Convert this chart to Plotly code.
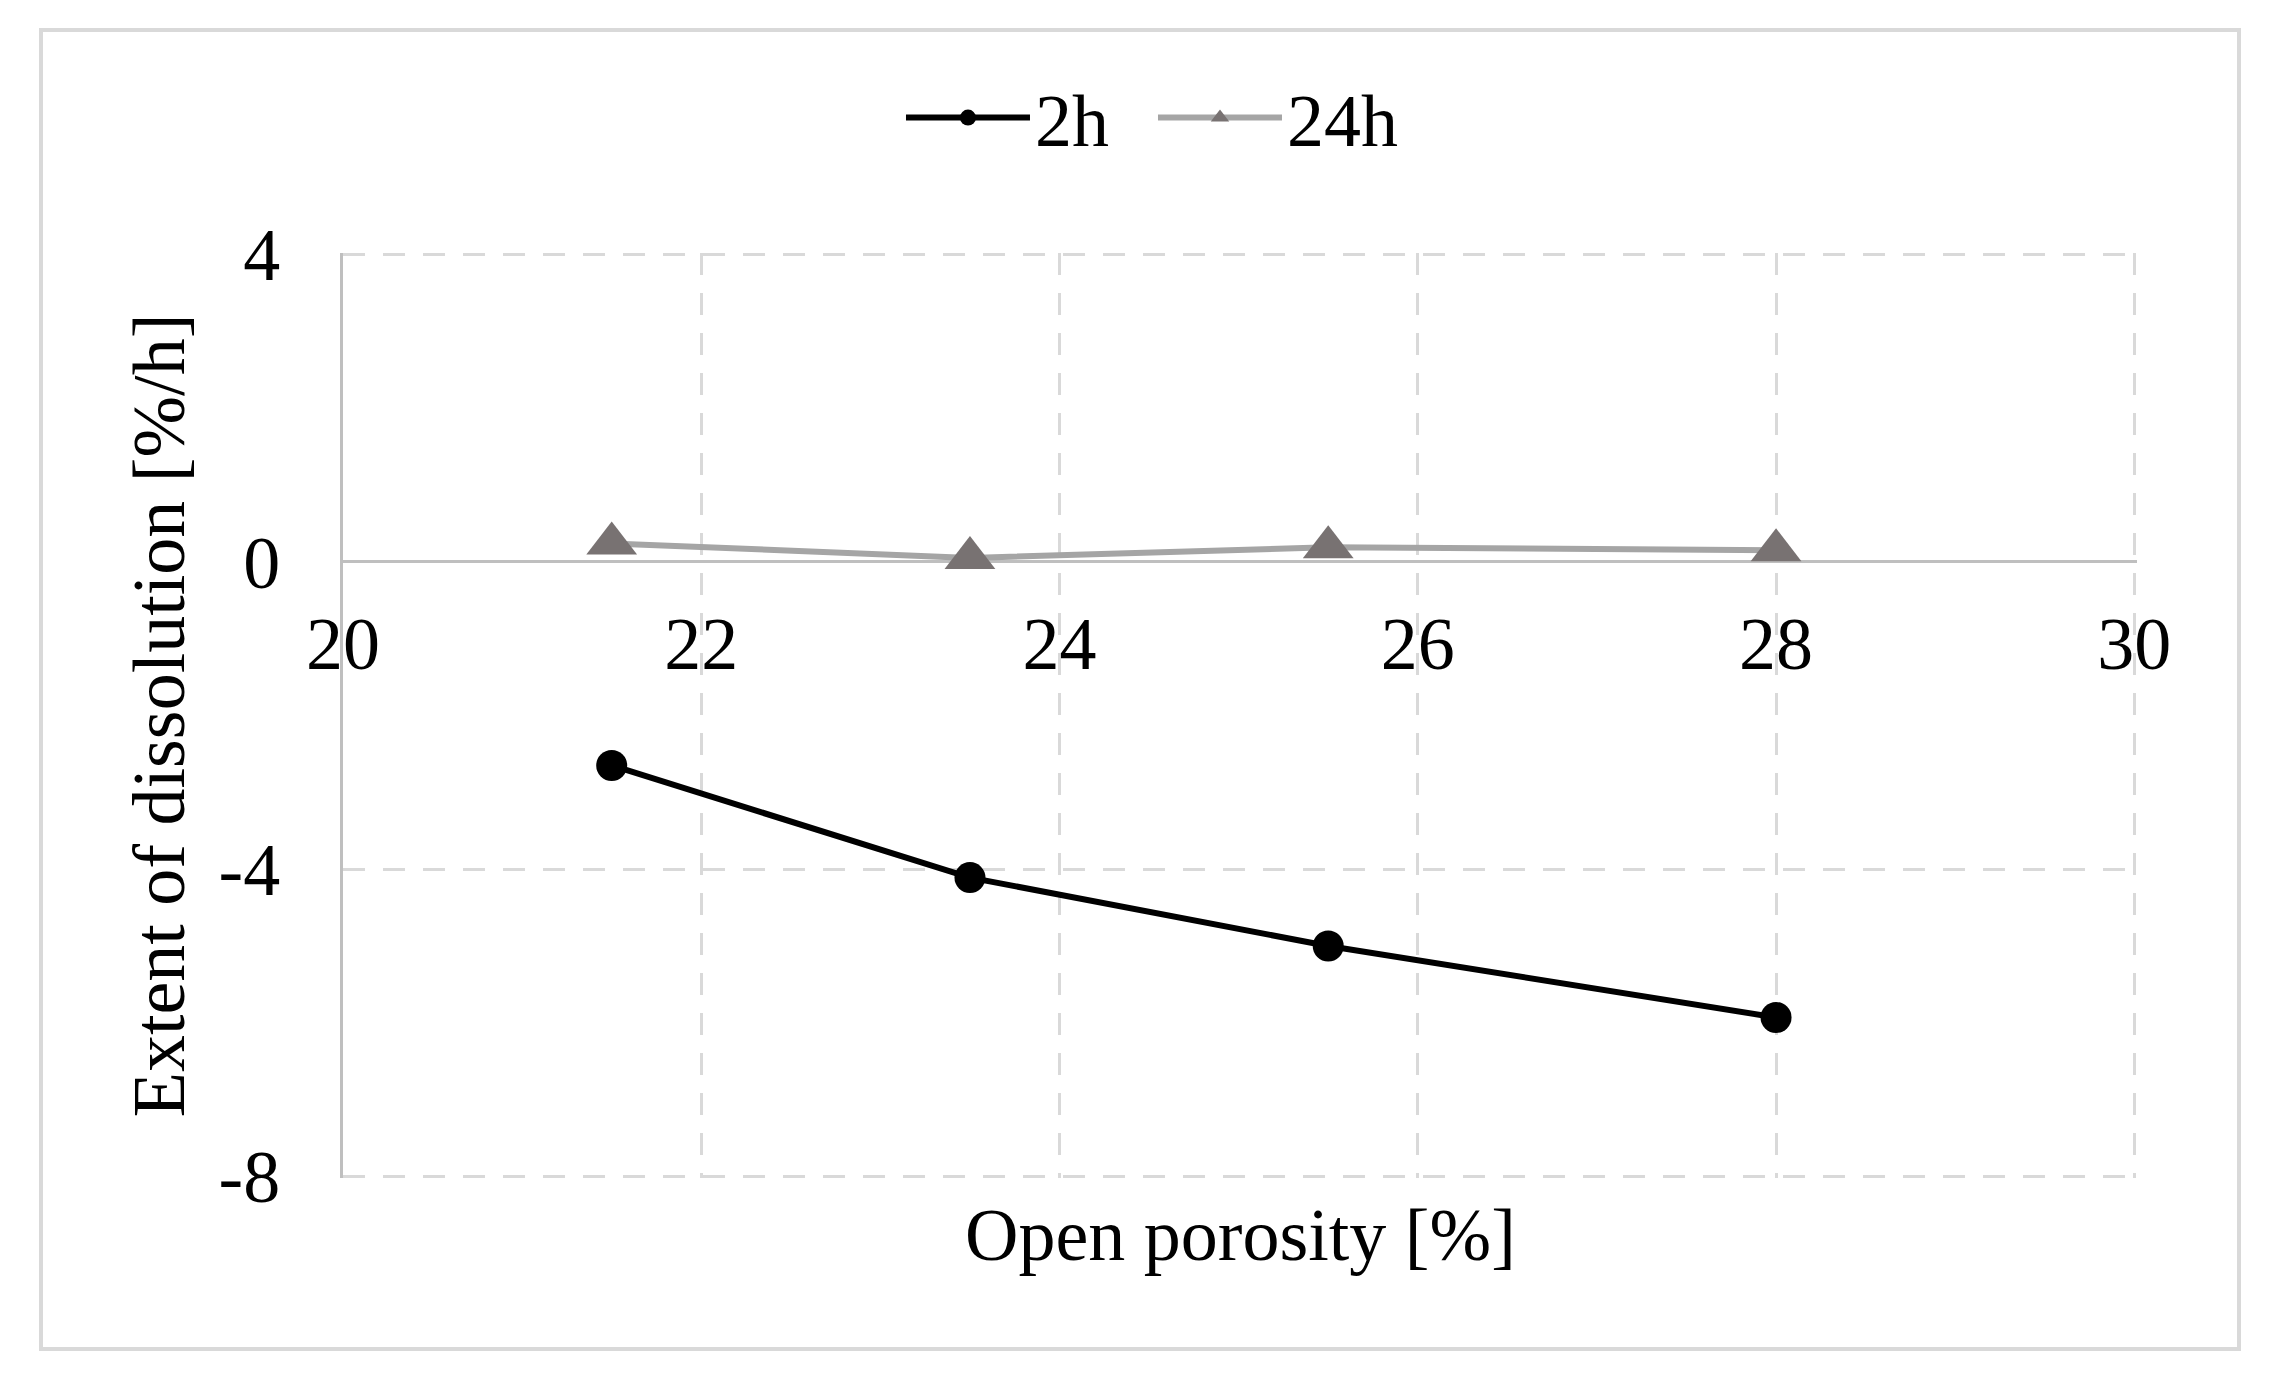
import plotly.graph_objects as go

# ---- data ----
porosity = [21.5, 23.5, 25.5, 28.0]
dissolution_2h = [-2.65, -4.11, -5.00, -5.93]
dissolution_24h = [0.24, 0.05, 0.19, 0.15]
series_names = ["2h", "24h"]
x_tick_vals = [20, 22, 24, 26, 28, 30]
x_tick_text = ["20", "22", "24", "26", "28", "30"]
y_tick_vals = [-8, -4, 0, 4]
y_tick_text = ["-8", "-4", "0", "4"]
x_title = "Open porosity [%]"
y_title = "Extent of dissolution [%/h]"

FONT = "Liberation Serif"
FS = 74
GRID = "#D9D9D9"
AXIS = "#BFBFBF"

# page has an 8px body margin; figure sized to fit inside the window
W, H = 2262, 1368
L, R, T, B = 335, 133, 245, 198
plot_w = W - L - R
plot_h = H - T - B

fig = go.Figure()
fig.add_trace(go.Scatter(
    x=porosity, y=dissolution_2h, name=series_names[0], mode="lines+markers",
    line=dict(color="black", width=6),
    marker=dict(symbol="circle", size=31, color="black"),
))
fig.add_trace(go.Scatter(
    x=porosity, y=dissolution_24h, name=series_names[1], mode="lines+markers",
    line=dict(color="#A5A5A5", width=6),
    marker=dict(symbol="triangle-up", size=44, color="#787272"),
))

y_range = [-8.02, 4.02]
x_range = [20, 30.015]
zero_frac = (0 - y_range[0]) / (y_range[1] - y_range[0])

fig.update_layout(
    template="none",
    width=W, height=H,
    margin=dict(l=L, r=R, t=T, b=B, pad=0),
    paper_bgcolor="white", plot_bgcolor="white",
    font=dict(family=FONT, size=FS, color="black"),
    showlegend=True,
    legend=dict(
        orientation="h", x=0.4515, xanchor="center", y=1.146, yanchor="middle",
        font=dict(family=FONT, size=FS, color="black"),
        itemwidth=124, entrywidth=113, bgcolor="rgba(0,0,0,0)", borderwidth=0,
        traceorder="normal",
    ),
    xaxis=dict(
        range=x_range, tickvals=x_tick_vals, ticktext=x_tick_text,
        anchor="free", position=zero_frac,
        showline=False, zeroline=False, ticks="",
        showgrid=True, gridcolor=GRID, gridwidth=3, griddash="22px,18px",
        tickfont=dict(family=FONT, size=FS, color="black"),
        ticklabelstandoff=32,
        automargin=False,
    ),
    yaxis=dict(
        range=y_range, tickvals=y_tick_vals, ticktext=y_tick_text,
        showline=True, linecolor=AXIS, linewidth=3,
        zeroline=True, zerolinecolor=AXIS, zerolinewidth=3,
        showgrid=True, gridcolor=GRID, gridwidth=3, griddash="22px,18px",
        ticks="", ticklabelstandoff=45,
        tickfont=dict(family=FONT, size=FS, color="black"),
        title=dict(text=y_title, font=dict(family=FONT, size=FS, color="black"), standoff=10),
        automargin=False,
    ),
    annotations=[dict(
        text=x_title, xref="paper", yref="paper", x=0.5, y=-0.0616,
        xanchor="center", yanchor="middle", showarrow=False,
        font=dict(family=FONT, size=FS, color="black"),
    )],
    shapes=[dict(
        type="rect", xref="paper", yref="paper",
        x0=(33 - L) / plot_w, x1=(2231 - L) / plot_w,
        y0=(H - B - 1341) / plot_h, y1=(H - B - 22) / plot_h,
        line=dict(color="#D9D9D9", width=4), fillcolor="rgba(0,0,0,0)", layer="below",
    )],
)

fig.write_html("out.html")
